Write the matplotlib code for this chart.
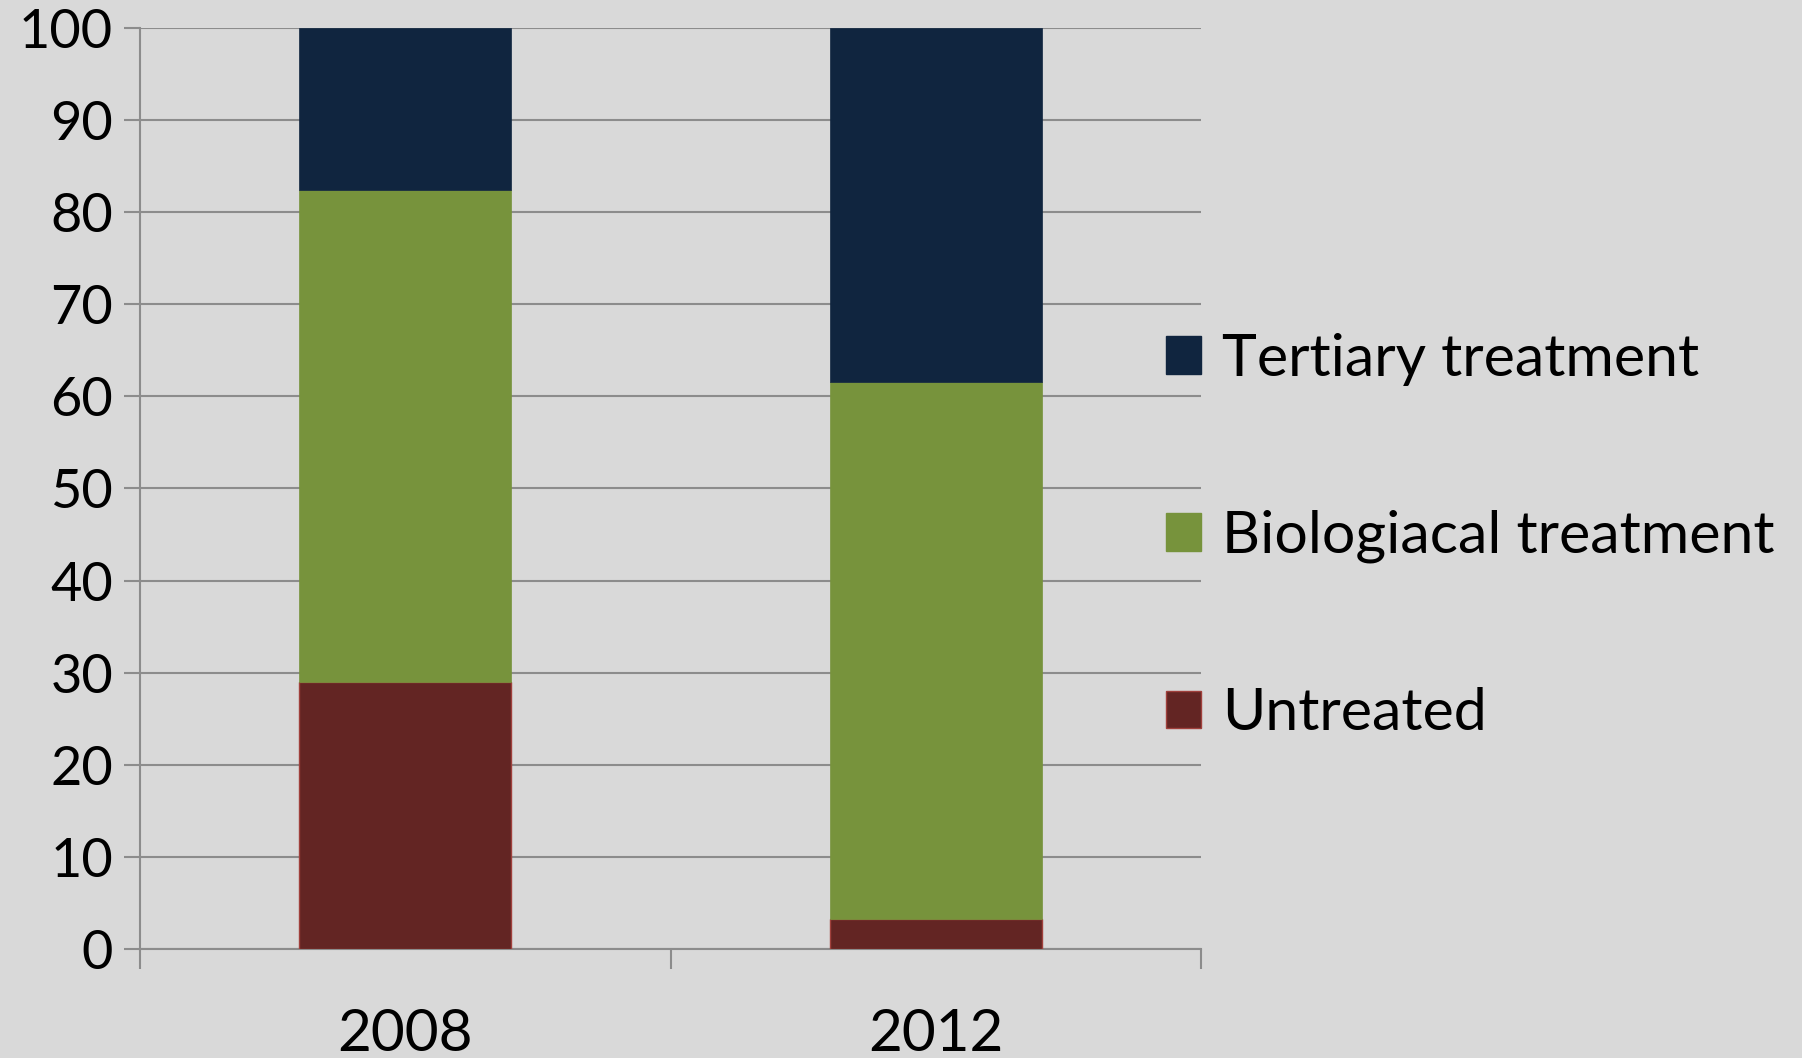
import numpy as np
import matplotlib.pyplot as plt
from matplotlib.patches import Patch

years = ['2008', '2012']
untreated = [29.0, 3.3]
biological = [53.4, 58.3]
tertiary = [17.6, 38.4]

colUntreated = '#632523'
colBio = '#77933C'
colTertiary = '#10253F'
gridCol = '#8C8C8C'
bg = '#D9D9D9'

plt.rcParams['font.family'] = ['Lato', 'DejaVu Sans']

fig = plt.figure(figsize=(18.02, 10.58), dpi=100, facecolor=bg)
ax = fig.add_axes([0.0778, 0.1027, 0.5887, 0.8712])
ax.set_facecolor(bg)

x = np.arange(len(years))
w = 0.4
bottom2 = np.array(untreated) + np.array(biological)
ax.bar(x, untreated, w, color=colUntreated, edgecolor='#A0403C', linewidth=1, zorder=3)
ax.bar(x, biological, w, bottom=untreated, color=colBio, edgecolor=colBio, linewidth=0.5, zorder=3)
ax.bar(x, tertiary, w, bottom=bottom2, color=colTertiary, edgecolor=colTertiary, linewidth=0.5, zorder=3)

ax.set_xlim(-0.5, 1.5)
ax.set_ylim(0, 100)
ax.set_yticks(np.arange(0, 101, 10))
ax.yaxis.grid(True, color=gridCol, linewidth=1.5, zorder=0)
ax.set_axisbelow(True)

for s in ['top', 'right']:
    ax.spines[s].set_visible(False)
for s in ['left', 'bottom']:
    ax.spines[s].set_color(gridCol)
    ax.spines[s].set_linewidth(1.5)

ax.tick_params(axis='y', length=11.5, width=1.5, color=gridCol, labelsize=39, pad=8)
ax.set_xticks(x)
ax.set_xticklabels(years)
ax.tick_params(axis='x', which='major', length=0, labelsize=42, pad=42)
ax.set_xticks([-0.5, 0.5, 1.5], minor=True)
ax.tick_params(axis='x', which='minor', length=14.5, width=1.5, color=gridCol)

handles = [Patch(facecolor=colTertiary, edgecolor=colTertiary),
           Patch(facecolor=colBio, edgecolor=colBio),
           Patch(facecolor=colUntreated, edgecolor='#A0403C')]
labels = ['Tertiary treatment', 'Biologiacal treatment', 'Untreated']
fig.legend(handles, labels, loc='center left', bbox_to_anchor=(0.647, 0.493),
           frameon=False, fontsize=42.5, handlelength=0.6, handleheight=0.6,
           handletextpad=0.35, labelspacing=2.1, borderpad=0, borderaxespad=0)

fig.savefig('out.png', dpi=100, facecolor=bg)
